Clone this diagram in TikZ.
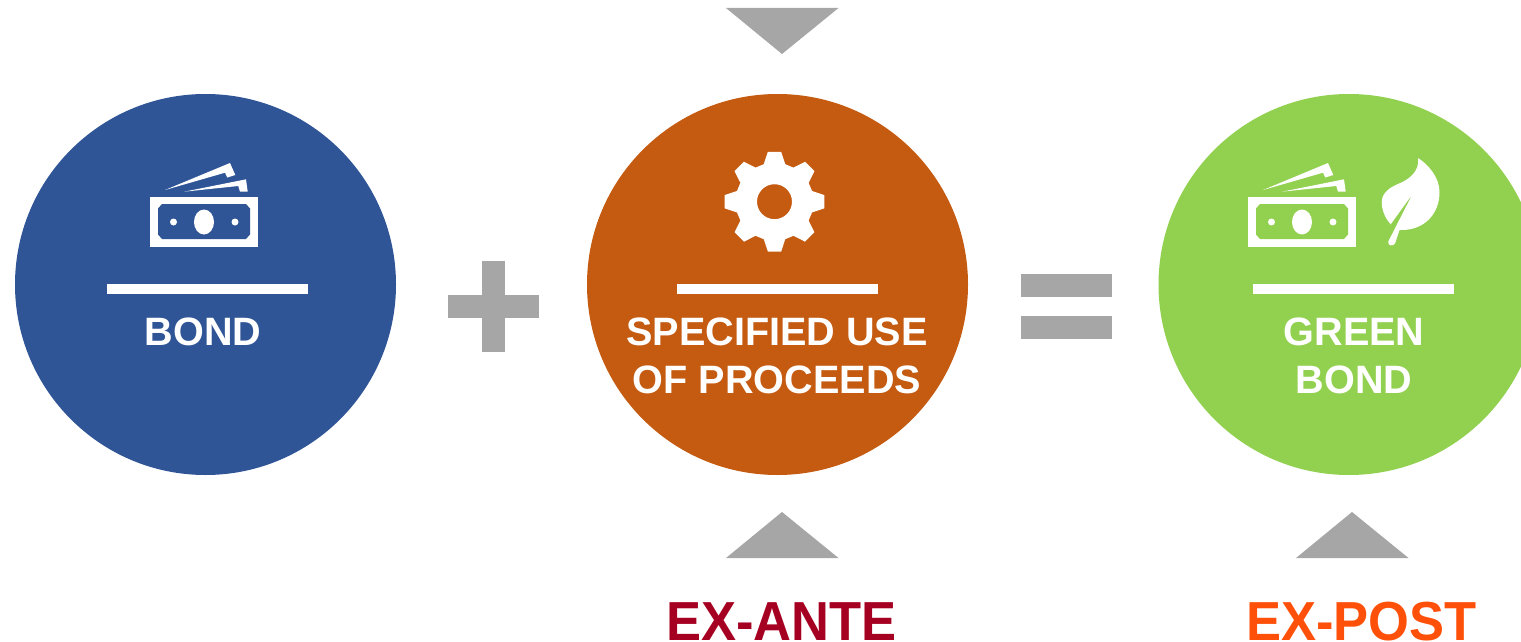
\documentclass[tikz,border=0pt]{standalone}
\usepackage{graphicx}
\usepackage{fontspec}
\setmainfont{Liberation Sans}
\definecolor{bondblue}{HTML}{2F5597}
\definecolor{useorange}{HTML}{C55A11}
\definecolor{leafgreen}{HTML}{92D050}
\definecolor{signgray}{HTML}{A6A6A6}
\definecolor{anteRed}{HTML}{A50021}
\definecolor{postOrange}{HTML}{FF5009}
\tikzset{
  disc/.style={circle,minimum size=381pt,inner sep=0pt,draw=none},
  label32/.style={text=white,font=\bfseries\fontsize{39.6}{39.6}\selectfont,anchor=base,inner sep=0pt},
  tag/.style={font=\bfseries\fontsize{55}{55}\selectfont,anchor=base,inner sep=0pt},
  sign/.style={fill=signgray,draw=none},
  rulebar/.style={fill=white,draw=none},
  icon/.style={fill=white,draw=none}
}
% bill icon: #1 = colour of the background, #2 = x offset
\newcommand{\billicon}[2]{%
  \begin{scope}[xshift=#2pt]
    \fill[icon] (150,197) rectangle (258,247);
    \fill[#1] (162,204) -- (246,204) -- (250,208.5) -- (250,234.5) -- (246,239) -- (162,239) -- (158,234.5) -- (158,208.5) -- cycle;
    \fill[icon] (204,222) ellipse [x radius=10,y radius=12.5];
    \fill[icon] (173.5,222) circle (3.5);
    \fill[icon] (235,222) circle (3.5);
    \fill[icon] (165,190) -- (230,163) -- (235.3,175) -- (227.3,177.5) -- (225,172.7) -- cycle;
    \fill[icon] (184,191.7) -- (246,179.3) -- (247.7,191.7) -- (240,191.7) -- (238.3,186) -- cycle;
  \end{scope}}
\begin{document}
\begin{tikzpicture}[x=1pt,y=-1pt]
\useasboundingbox (0,0) rectangle (1521,642);
\clip (0,0) rectangle (1521,642);
\node[disc,fill=bondblue] (bond) at (205.5,284.5) {};
\node[disc,fill=useorange] (use) at (777.5,284.5) {};
\node[disc,fill=leafgreen] (green) at (1349,284.5) {};
% rules
\fill[rulebar] (107,284) rectangle (308,294);
\fill[rulebar] (677,284) rectangle (878,294);
\fill[rulebar] (1253,284) rectangle (1454,294);
% labels
\node[label32] (bondtext) at (203,345) {BOND};
\node[label32] (usetext1) at (777,345) {SPECIFIED USE};
\node[label32] (usetext2) at (777,393) {OF PROCEEDS};
\node[label32] (greentext1) at (1354,345) {GREEN};
\node[label32] (greentext2) at (1354,393) {BOND};
\node[tag,text=anteRed] (exante) at (781.5,640) {\scalebox{0.955}[1]{EX-ANTE}};
\node[tag,text=postOrange] (expost) at (1361.5,640) {\scalebox{0.955}[1]{EX-POST}};
% plus and equals
\fill[sign] (448,295) rectangle (539,318);
\fill[sign] (482,261) rectangle (505,352);
\fill[sign] (1021,274) rectangle (1112,297);
\fill[sign] (1021,316) rectangle (1112,339);
% triangles
\fill[sign] (726,8) -- (838.5,8) -- (782,54) -- cycle;
\fill[sign] (726,558) -- (838.5,558) -- (782,512) -- cycle;
\fill[sign] (1296,558) -- (1408.5,558) -- (1352,512) -- cycle;
% icons
\billicon{bondblue}{0}
\billicon{leafgreen}{1098}
% gear
\begin{scope}[shift={(774.5,201.7)}]
  \fill[icon,even odd rule]
    (90-7.6:50.3) -- (90+7.6:50.3) -- (90+16:39) -- (90+29:39)
    -- (135-7.6:50.3) -- (135+7.6:50.3) -- (135+16:39) -- (135+29:39)
    -- (180-7.6:50.3) -- (180+7.6:50.3) -- (180+16:39) -- (180+29:39)
    -- (225-7.6:50.3) -- (225+7.6:50.3) -- (225+16:39) -- (225+29:39)
    -- (270-7.6:50.3) -- (270+7.6:50.3) -- (270+16:39) -- (270+29:39)
    -- (315-7.6:50.3) -- (315+7.6:50.3) -- (315+16:39) -- (315+29:39)
    -- (0-7.6:50.3) -- (0+7.6:50.3) -- (0+16:39) -- (0+29:39)
    -- (45-7.6:50.3) -- (45+7.6:50.3) -- (45+16:39) -- (45+29:39) -- cycle
    (0,0) circle (17.5);
\end{scope}
% leaf
\fill[icon] (1418,158)
  .. controls (1429,165) and (1439.5,178) .. (1439.5,192)
  .. controls (1439.5,215) and (1423,231) .. (1399.5,230)
  -- (1395,243.5)
  .. controls (1393.5,246.5) and (1387,246) .. (1388.3,241.5)
  -- (1412.2,194.5) -- (1390.7,224.3)
  .. controls (1385,218) and (1381.7,210) .. (1381.7,202)
  .. controls (1382,192) and (1391,187) .. (1398,184)
  .. controls (1408,180) and (1420,172) .. (1418,158) -- cycle;
\end{tikzpicture}
\end{document}
